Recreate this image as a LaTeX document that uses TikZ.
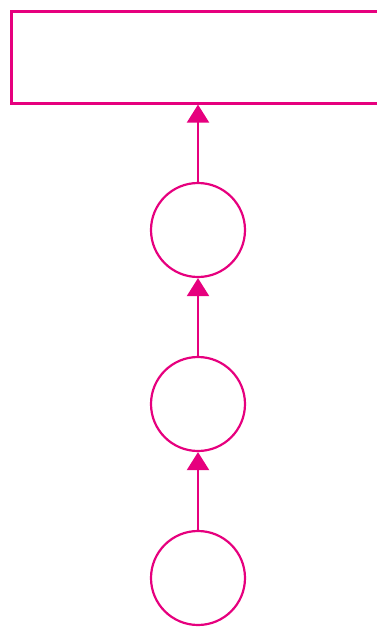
\documentclass[tikz,border=0pt]{standalone}
\usetikzlibrary{arrows.meta}
\definecolor{mag}{HTML}{E6007E}
\begin{document}
\begin{tikzpicture}[x=1pt,y=-1pt,
  ln/.style={draw=mag,line width=2.2pt},
  circ/.style={ln,circle,minimum size=94pt,inner sep=0pt},
  conn/.style={draw=mag,line width=2.2pt,-{Triangle[width=22pt,length=18pt]}}]
\useasboundingbox (0,0) rectangle (377,627);
\node[ln,rectangle,minimum width=376pt,minimum height=92pt,inner sep=0pt] (top) at (199.5,57.5) {};
\node[circ] (c1) at (198,230) {};
\node[circ] (c2) at (198,404) {};
\node[circ] (c3) at (198,578) {};
\draw[conn] (c1.north) -- (c1.north|-top.south);
\draw[conn] (c2.north) -- (c1.south);
\draw[conn] (c3.north) -- (c2.south);
\end{tikzpicture}
\end{document}
